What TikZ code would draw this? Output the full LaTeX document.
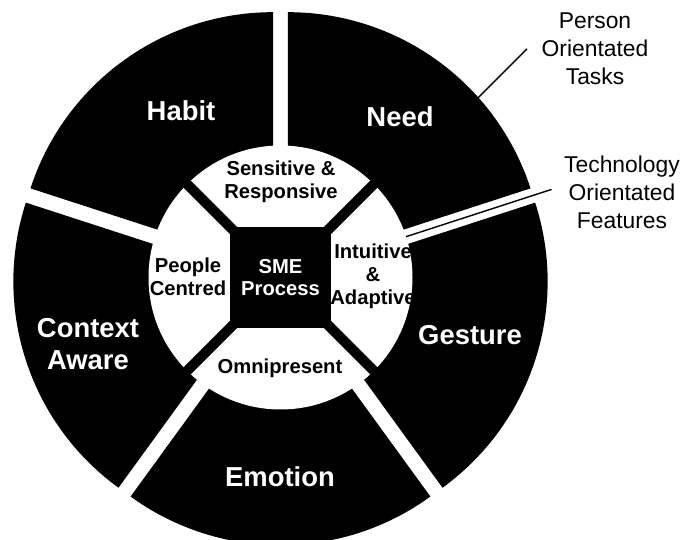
\documentclass[tikz,border=0pt]{standalone}
\usepackage{fontspec}
\setmainfont{Liberation Sans}
\usetikzlibrary{calc}
\definecolor{coal}{RGB}{0, 0, 0}
\definecolor{paper}{RGB}{255, 255, 255}

\tikzset{
  outerlabel/.style={text=paper, font=\bfseries\fontsize{15.6}{18.2}\selectfont, align=center},
  innerlabel/.style={text=coal, font=\bfseries\fontsize{11.5}{13}\selectfont, align=center},
  notelabel/.style={text=coal, font=\fontsize{13}{16}\selectfont, align=center},
  smebox/.style={fill=coal, text=paper, minimum size=2.02cm, inner sep=0pt, font=\bfseries\fontsize{11.5}{13}\selectfont, align=center},
  band/.style={draw=coal, line width=0.2cm},
  leader/.style={draw=coal, line width=0.8pt}
}

\begin{document}
\begin{tikzpicture}[x=0.02cm, y=0.02cm]
  \useasboundingbox[fill=paper] (0,0) rectangle (687,540);
  \coordinate (c) at (280.5,262.5);

  % exploded outer sectors
  \fill[coal] ($(c)+( 54:12.75)$) -- ++( 18:255) arc[start angle= 18, end angle= 90, radius=255] -- cycle;
  \fill[coal] ($(c)+(126:12.75)$) -- ++( 90:255) arc[start angle= 90, end angle=162, radius=255] -- cycle;
  \fill[coal] ($(c)+(198:12.75)$) -- ++(162:255) arc[start angle=162, end angle=234, radius=255] -- cycle;
  \fill[coal] ($(c)+(270:12.75)$) -- ++(234:255) arc[start angle=234, end angle=306, radius=255] -- cycle;
  \fill[coal] ($(c)+(-18:12.75)$) -- ++(-54:255) arc[start angle=-54, end angle= 18, radius=255] -- cycle;

  % inner ring
  \fill[paper] (c) circle[radius=132];
  \foreach \a in {45,135,225,315}
    \draw[band] (c) -- ++(\a:134);
  \node[smebox] (sme) at (c) {SME\\Process};

  % labels
  \node[outerlabel] (habit)   at (181,429)   {Habit};
  \node[outerlabel] (need)    at (400,423)   {Need};
  \node[outerlabel] (context) at ( 88,196)   {Context\\Aware};
  \node[outerlabel] (gesture) at (470,205)   {Gesture};
  \node[outerlabel] (emotion) at (280, 63)   {Emotion};

  \node[innerlabel] (sensitive) at (281,358.5) {Sensitive \&\\Responsive};
  \node[innerlabel] (people)    at (188,263)   {People\\Centred};
  \node[innerlabel] (intuitive) at (373,264)   {Intuitive\\\&\\Adaptive};
  \node[innerlabel] (omni)      at (280,172)   {Omnipresent};

  \node[notelabel] (personnote) at (595,491)   {Person\\Orientated\\Tasks};
  \node[notelabel] (technote)   at (622,347.5) {Technology\\Orientated\\Features};

  % leader lines
  \coordinate (neededge)  at (478,442);
  \coordinate (personend) at (527,491);
  \coordinate (techstart) at ($(c)+(18:132)$);
  \coordinate (techend)   at ($(c)+(18:285)$);
  \draw[leader] (neededge)  -- (personend);
  \draw[leader] (techstart) -- (techend);
\end{tikzpicture}
\end{document}
